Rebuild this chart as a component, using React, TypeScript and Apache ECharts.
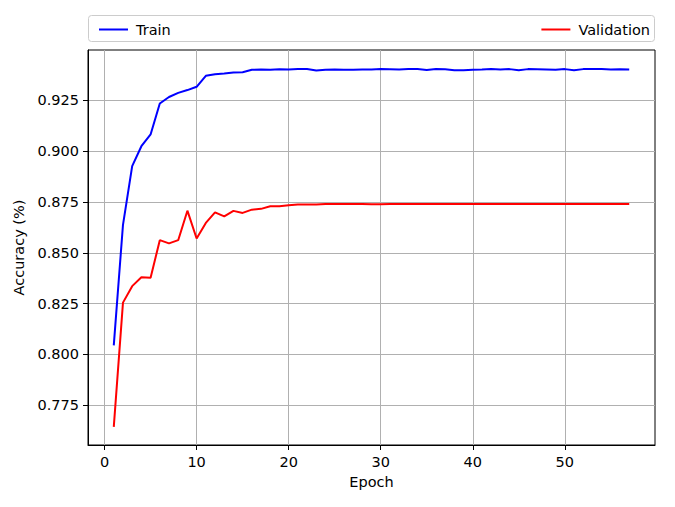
import React, { useEffect, useRef } from "react";
import * as echarts from "echarts";

const epochs: number[] = Array.from({ length: 57 }, (_, i) => i + 1);

const trainAcc: number[] = [
  0.8045, 0.8637, 0.8926, 0.9024, 0.9082, 0.9234, 0.9266, 0.9286, 0.93, 0.9316,
  0.937, 0.9378, 0.9381, 0.9386, 0.9388, 0.94, 0.9401, 0.94, 0.9402, 0.9401,
  0.9403, 0.9404, 0.9396, 0.94, 0.9401, 0.94, 0.94, 0.9401, 0.9401, 0.9403,
  0.9402, 0.9401, 0.9403, 0.9403, 0.9399, 0.9403, 0.9402, 0.9398, 0.9398, 0.94,
  0.9401, 0.9403, 0.9401, 0.9403, 0.9398, 0.9403, 0.9402, 0.9401, 0.94, 0.9403,
  0.9398, 0.9403, 0.9403, 0.9403, 0.9401, 0.9402, 0.9401,
];

const valAcc: number[] = [
  0.7644, 0.8255, 0.8336, 0.838, 0.8377, 0.8562, 0.8546, 0.8562, 0.8707, 0.857,
  0.8647, 0.8699, 0.8679, 0.8706, 0.8696, 0.8712, 0.8716, 0.8729, 0.8729, 0.8734,
  0.8737, 0.8737, 0.8738, 0.874, 0.874, 0.874, 0.874, 0.874, 0.8739, 0.8739,
  0.874, 0.874, 0.874, 0.874, 0.874, 0.874, 0.874, 0.874, 0.874, 0.874,
  0.874, 0.874, 0.874, 0.874, 0.874, 0.874, 0.874, 0.874, 0.874, 0.874,
  0.874, 0.874, 0.874, 0.874, 0.874, 0.874, 0.874,
];

const xTicks: number[] = [0, 10, 20, 30, 40, 50];
const yTicks: number[] = [0.775, 0.8, 0.825, 0.85, 0.875, 0.9, 0.925];

const FONT = "DejaVu Sans";

export default function App() {
  const ref = useRef<HTMLDivElement>(null);
  useEffect(() => {
    document.body.style.margin = "0";
    const chart = echarts.init(ref.current!, null, { renderer: "svg" });
    chart.setOption({
      animation: false,
      backgroundColor: "#ffffff",
      textStyle: { fontFamily: FONT },
      grid: {
        left: 88,
        top: 50,
        width: 567,
        height: 395,
        show: true,
        borderColor: "#000000",
        borderWidth: 1,
        backgroundColor: "transparent",
      },
      graphic: [
        {
          type: "rect",
          z: 0,
          shape: { x: 88.5, y: 15.5, width: 566, height: 26, r: 3 },
          style: { fill: "#ffffff", stroke: "#cccccc", lineWidth: 1 },
        },
      ],
      legend: [
        {
          data: ["Train"],
          left: 94,
          top: 17,
          icon: "rect",
          itemWidth: 29,
          itemHeight: 2,
          textStyle: { fontFamily: FONT, fontSize: 14.5, color: "#000", padding: [0, 0, 0, 3] },
        },
        {
          data: ["Validation"],
          right: 20,
          top: 17,
          icon: "rect",
          itemWidth: 29,
          itemHeight: 2,
          textStyle: { fontFamily: FONT, fontSize: 14.5, color: "#000", padding: [0, 0, 0, 3] },
        },
      ],
      xAxis: {
        type: "value",
        min: -1.8,
        max: 59.8,
        splitNumber: 6,
        name: "Epoch",
        nameLocation: "middle",
        nameGap: 29,
        nameTextStyle: { fontFamily: FONT, fontSize: 14.5, color: "#000" },
        axisLine: { show: true, onZero: false, lineStyle: { color: "#000", width: 1 } },
        axisTick: {
          show: true,
          length: 5,
          customValues: xTicks,
          lineStyle: { color: "#000", width: 1 },
        },
        axisLabel: {
          customValues: xTicks,
          margin: 9,
          fontFamily: FONT,
          fontSize: 14.5,
          color: "#000",
        },
        splitLine: { show: true, lineStyle: { color: "#b0b0b0", width: 1 } },
      },
      yAxis: {
        type: "value",
        min: 0.7555,
        max: 0.9497,
        name: "Accuracy (%)",
        nameLocation: "middle",
        nameGap: 58,
        nameTextStyle: { fontFamily: FONT, fontSize: 14.5, color: "#000" },
        axisLine: { show: true, onZero: false, lineStyle: { color: "#000", width: 1 } },
        axisTick: {
          show: true,
          length: 5,
          customValues: yTicks,
          lineStyle: { color: "#000", width: 1 },
        },
        axisLabel: {
          customValues: yTicks,
          margin: 9,
          fontFamily: FONT,
          fontSize: 14.5,
          color: "#000",
          formatter: (v: number) => v.toFixed(3),
        },
        splitLine: { show: true, lineStyle: { color: "#b0b0b0", width: 1 } },
      },
      series: [
        {
          name: "Train",
          type: "line",
          data: epochs.map((e, i) => [e, trainAcc[i]]),
          showSymbol: false,
          symbol: "none",
          color: "#0000ff",
          lineStyle: { color: "#0000ff", width: 2 },
          z: 3,
        },
        {
          name: "Validation",
          type: "line",
          data: epochs.map((e, i) => [e, valAcc[i]]),
          showSymbol: false,
          symbol: "none",
          color: "#ff0000",
          lineStyle: { color: "#ff0000", width: 2 },
          z: 3,
        },
      ],
    });
    return () => chart.dispose();
  }, []);
  return <div ref={ref} style={{ width: 675, height: 507 }} />;
}
